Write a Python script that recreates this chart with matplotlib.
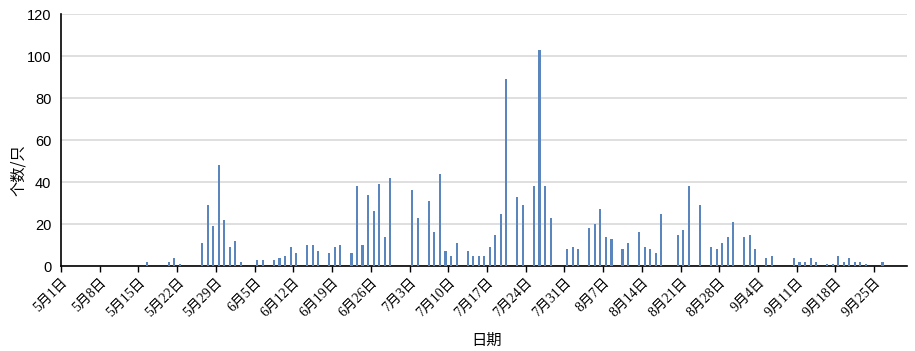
import matplotlib
matplotlib.use("Agg")
import matplotlib.pyplot as plt
import pandas as pd

plt.rcParams['font.family'] = ['Liberation Serif', 'Noto Sans CJK SC', 'DejaVu Sans']

dates = ["5-16", "5-20", "5-21", "5-22", "5-26", "5-27", "5-28", "5-29", "5-30", "5-31",
         "6-1", "6-2", "6-5", "6-6", "6-8", "6-9", "6-10", "6-11", "6-12", "6-14",
         "6-15", "6-16", "6-18", "6-19", "6-20", "6-22", "6-23", "6-24", "6-25", "6-26",
         "6-27", "6-28", "6-29", "7-3", "7-4", "7-6", "7-7", "7-8", "7-9", "7-10",
         "7-11", "7-13", "7-14", "7-15", "7-16", "7-17", "7-18", "7-19", "7-20", "7-22",
         "7-23", "7-25", "7-26", "7-27", "7-28", "7-31", "8-1", "8-2", "8-4", "8-5",
         "8-6", "8-7", "8-8", "8-10", "8-11", "8-13", "8-14", "8-15", "8-16", "8-17",
         "8-20", "8-21", "8-22", "8-24", "8-26", "8-27", "8-28", "8-29", "8-30", "9-1",
         "9-2", "9-3", "9-5", "9-6", "9-10", "9-11", "9-12", "9-13", "9-14", "9-16",
         "9-17", "9-18", "9-19", "9-20", "9-21", "9-22", "9-23", "9-26"]
counts = [2, 2, 4, 1, 11, 29, 19, 48, 22, 9,
          12, 2, 3, 3, 3, 4, 5, 9, 6, 10,
          10, 7, 6, 9, 10, 6, 38, 10, 34, 26,
          39, 14, 42, 36, 23, 31, 16, 44, 7, 5,
          11, 7, 5, 5, 5, 9, 15, 25, 89, 33,
          29, 38, 103, 38, 23, 8, 9, 8, 18, 20,
          27, 14, 13, 8, 11, 16, 9, 8, 6, 25,
          15, 17, 38, 29, 9, 8, 11, 14, 21, 14,
          15, 8, 4, 5, 4, 2, 2, 4, 2, 1,
          1, 5, 2, 4, 2, 2, 1, 2]
year = 2020
start = pd.Timestamp(f"{year}-05-01")
end = pd.Timestamp(f"{year}-10-01")
yticks = [0, 20, 40, 60, 80, 100, 120]
xlabel = "日期"
ylabel = "个数/只"

x = pd.to_datetime([f"{year}-{d}" for d in dates]) + pd.Timedelta(hours=12)

fig = plt.figure(figsize=(9.15, 3.51), dpi=100)
ax = fig.add_axes([0.0667, 0.242, 0.925, 0.718])
ax.bar(x, counts, width=0.38, color='#5A85BD', zorder=3)

ax.set_xlim(start, end)
ax.set_ylim(0, 120)
ax.set_yticks(yticks)
ax.set_yticklabels([str(v) for v in yticks], family=['Liberation Sans'], fontsize=10.5)
ax.yaxis.grid(True, color='#D9D9D9', linewidth=1.2, zorder=0)
ax.set_axisbelow(True)
ticks = pd.date_range(start, end, freq='7D')
ticks = ticks[ticks < end]
ax.set_xticks(ticks)
ax.set_xticklabels([f"{t.month}月{t.day}日" for t in ticks], rotation=45,
                   ha='right', rotation_mode='anchor', fontsize=10)
ax.tick_params(axis='x', direction='out', length=4, width=1, color='black', pad=3)
ax.tick_params(axis='y', length=0, pad=7)
for s in ['top', 'right']:
    ax.spines[s].set_visible(False)
ax.spines['left'].set_color('black')
ax.spines['bottom'].set_color('black')
ax.spines['left'].set_linewidth(1.2)
ax.spines['bottom'].set_linewidth(1.2)

fig.text(0.532, 0.03, xlabel, ha='center', va='center', fontsize=11,
         family=['Noto Sans CJK SC'])
fig.text(0.02, 0.515, ylabel, ha='center', va='center', rotation=90, fontsize=11,
         family=['Noto Sans CJK SC'])

fig.savefig("out.png", dpi=100)
